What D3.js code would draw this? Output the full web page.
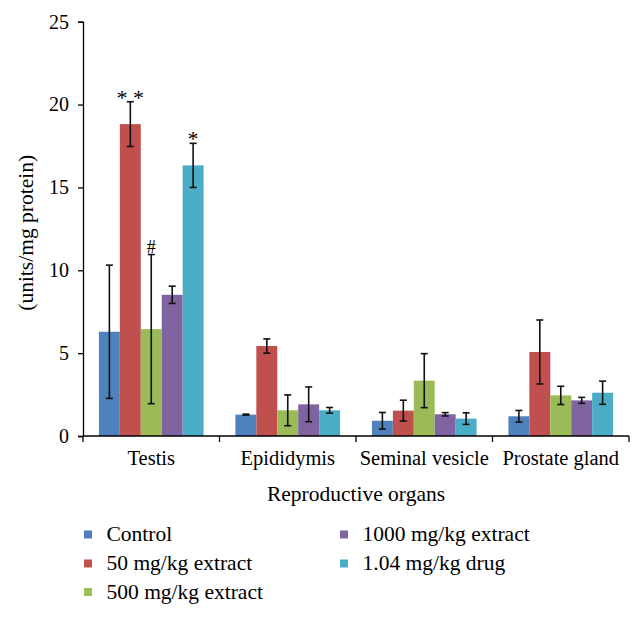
<!DOCTYPE html>
<html><head><meta charset="utf-8">
<script src="https://cdn.jsdelivr.net/npm/d3@7/dist/d3.min.js"></script>
<style>
body{margin:0;background:#fff;}
</style></head>
<body>
<svg id="chart" width="642" height="617"></svg>
<script>
const categories = ["Testis", "Epididymis", "Seminal vesicle", "Prostate gland"];
const seriesNames = ["Control", "50 mg/kg extract", "500 mg/kg extract", "1000 mg/kg extract", "1.04 mg/kg drug"];
const colors = ["#4F81BD", "#C0504D", "#9BBB59", "#8064A2", "#4BACC6"];
// values per series, by category
const control   = [6.29, 1.29, 0.92, 1.19];
const ext50     = [18.82, 5.43, 1.53, 5.07];
const ext500    = [6.45, 1.55, 3.34, 2.45];
const ext1000   = [8.52, 1.91, 1.31, 2.15];
const drug      = [16.33, 1.55, 1.05, 2.61];
// error (± SD) per series, by category
const errControl = [4.02, 0.03, 0.50, 0.35];
const err50      = [1.35, 0.43, 0.63, 1.93];
const err500     = [4.50, 0.93, 1.63, 0.55];
const err1000    = [0.52, 1.05, 0.10, 0.18];
const errDrug    = [1.33, 0.17, 0.35, 0.70];
const yTicks = [0, 5, 10, 15, 20, 25];
// significance marks: [category index, series index, label]
const marks = [[0, 1, "* *"], [0, 2, "#"], [0, 4, "*"]];

const values = [control, ext50, ext500, ext1000, drug];
const errors = [errControl, err50, err500, err1000, errDrug];

const FONT = "'Liberation Serif', 'DejaVu Serif', 'Times New Roman', Times, serif";
const svg = d3.select("#chart").attr("font-family", FONT);
const L = 83, R = 629, T = 21.7, B = 436;

const x0 = d3.scaleBand().domain(categories).range([L, R]).padding(0);
const x1 = d3.scaleBand().domain(d3.range(seriesNames.length)).range([0, x0.bandwidth()]).paddingInner(0).paddingOuter(0.76);
const y = d3.scaleLinear().domain([0, 25]).range([B, T]);

// bars
categories.forEach((c, ci) => {
  const g = svg.append("g").attr("transform", `translate(${x0(c)},0)`);
  seriesNames.forEach((s, si) => {
    const v = values[si][ci];
    g.append("rect")
      .attr("x", x1(si)).attr("width", x1.bandwidth())
      .attr("y", y(v)).attr("height", y(0) - y(v))
      .attr("fill", colors[si]);
  });
});

// error bars
categories.forEach((c, ci) => {
  seriesNames.forEach((s, si) => {
    const v = values[si][ci], e = errors[si][ci];
    const cx = x0(c) + x1(si) + x1.bandwidth() / 2;
    const g = svg.append("g").attr("stroke", "#111").attr("stroke-width", 1.6);
    g.append("line").attr("x1", cx).attr("x2", cx).attr("y1", y(v + e)).attr("y2", y(v - e));
    g.append("line").attr("x1", cx - 3.5).attr("x2", cx + 3.5).attr("y1", y(v + e)).attr("y2", y(v + e));
    g.append("line").attr("x1", cx - 3.5).attr("x2", cx + 3.5).attr("y1", y(v - e)).attr("y2", y(v - e));
  });
});

function txt(sel) { return sel.style("font-family", FONT).attr("fill", "#000"); }

// significance marks
marks.forEach(([ci, si, lab]) => {
  const v = values[si][ci], e = errors[si][ci];
  const cx = x0(categories[ci]) + x1(si) + x1.bandwidth() / 2;
  txt(svg.append("text")).attr("x", cx).attr("y", y(v + e) - (lab === "#" ? 2 : -3))
    .attr("text-anchor", "middle").style("font-size", lab === "#" ? "18px" : "22px").text(lab);
});

// y axis
const yAxis = svg.append("g").attr("transform", `translate(${L},0)`)
  .call(d3.axisLeft(y).tickValues(yTicks).tickSize(5).tickPadding(9));
yAxis.attr("font-family", FONT);
txt(yAxis.selectAll("text")).style("font-size", "20px");
yAxis.select(".domain").attr("stroke-width", 1.3);
yAxis.selectAll(".tick line").attr("stroke-width", 1.3);

// x axis with ticks at category boundaries
const xAxis = svg.append("g").attr("transform", `translate(0,${B})`);
xAxis.append("line").attr("x1", L).attr("x2", R).attr("y1", 0).attr("y2", 0).attr("stroke", "#000").attr("stroke-width", 1.3);
const bounds = categories.map(c => x0(c)).concat([R]);
xAxis.selectAll("line.t").data(bounds).enter().append("line").attr("class", "t")
  .attr("x1", d => d).attr("x2", d => d).attr("y1", 0).attr("y2", 6).attr("stroke", "#000").attr("stroke-width", 1.3);
txt(xAxis.selectAll("text.c").data(categories).enter().append("text").attr("class", "c"))
  .attr("x", d => x0(d) + x0.bandwidth() / 2).attr("y", 29)
  .attr("text-anchor", "middle").style("font-size", "20.5px").text(d => d);

// axis titles
txt(svg.append("text")).attr("transform", `translate(33,${(T + B) / 2 + 4}) rotate(-90)`)
  .attr("text-anchor", "middle").style("font-size", "21.5px").text("(units/mg protein)");
txt(svg.append("text")).attr("x", (L + R) / 2).attr("y", 501).attr("text-anchor", "middle")
  .style("font-size", "21.5px").text("Reproductive organs");

// legend
const legPos = [[84, 534.5], [84, 563.5], [84, 592], [340, 534.5], [340, 563.5]];
seriesNames.forEach((s, i) => {
  const [lx, ly] = legPos[i];
  svg.append("rect").attr("x", lx).attr("y", ly - 4).attr("width", 8).attr("height", 8).attr("fill", colors[i]);
  txt(svg.append("text")).attr("x", lx + 22.5).attr("y", ly + 6.5).style("font-size", "21.5px").text(s);
});
</script>
</body></html>
